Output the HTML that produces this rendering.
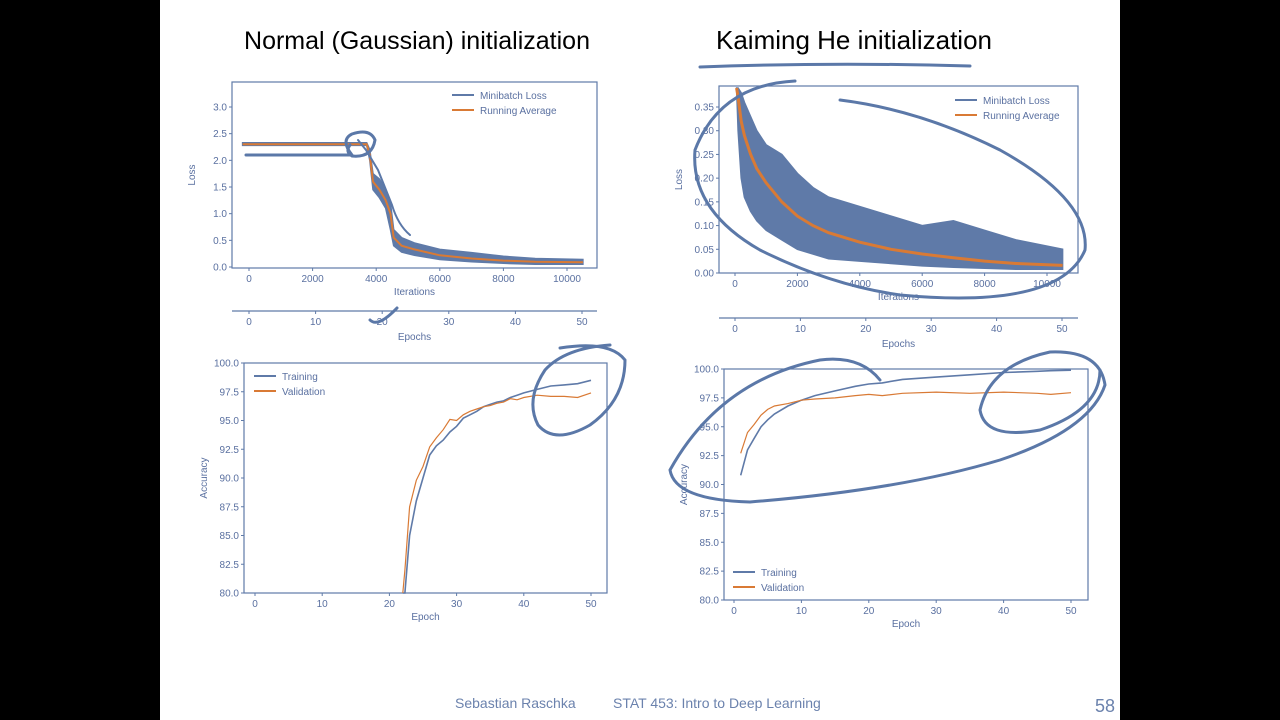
<!DOCTYPE html>
<html><head><meta charset="utf-8">
<style>
body{margin:0;background:#000;}
#slide{position:absolute;left:160px;top:0;width:960px;height:720px;background:#fff;}
svg{position:absolute;left:0;top:0;}
text{font-family:"Liberation Sans",sans-serif;}
</style></head>
<body>
<div id="slide"></div>
<svg id="main" width="1280" height="720">
  <rect x="0" y="0" width="160" height="720" fill="#000"/>
  <rect x="1120" y="0" width="160" height="720" fill="#000"/>
  <text x="417" y="49" font-size="25" text-anchor="middle" fill="#000">Normal (Gaussian) initialization</text>
  <text x="854" y="49" font-size="26" text-anchor="middle" fill="#000">Kaiming He initialization</text>
  <text x="455" y="708" font-size="14" fill="#6b82ad">Sebastian Raschka</text>
  <text x="613" y="708" font-size="14" fill="#6b82ad">STAT 453: Intro to Deep Learning</text>
  <text x="1095" y="712" font-size="18" fill="#6b82ad">58</text>
  <g id="charts"></g>
  <g id="ink" fill="none" stroke="#5b78a8" stroke-width="3" stroke-linecap="round">
    <path d="M700 67 Q830 62 970 66"/>
    <path d="M246 155 L352 155 Q340 140 352 134 Q370 128 375 140 Q372 158 352 156 Q345 152 350 145"/>
    <path d="M358 140 L366 150 Q372 160 378 170 L392 205 Q398 225 410 235" stroke-width="2"/>
    <path d="M370 320 Q378 328 397 308"/>
    <path d="M560 348 Q610 340 625 360 Q625 400 590 425 Q555 445 538 425 Q525 400 545 370 Q565 348 610 345"/>
    <path d="M795 81 Q720 85 695 150 Q690 210 760 250 Q830 285 900 295 Q1060 310 1085 250 Q1090 200 1000 150 Q920 110 840 100"/>
    <path d="M880 380 Q860 355 820 360 Q720 380 670 470 Q675 500 750 502 Q900 490 1000 460 Q1090 430 1105 385 Q1100 350 1050 352 Q990 365 980 410 Q985 440 1040 430 Q1100 410 1100 370"/>
  </g>
</svg>
<script>
// ---------- data ----------
const lossItersN = [-200,500,1500,2500,3300,3700,3800,3900,4100,4300,4450,4550,4800,5200,6000,7000,8000,9000,10500];
const lossAvgN   = [2.30,2.30,2.30,2.30,2.30,2.30,2.10,1.60,1.45,1.25,1.00,0.55,0.40,0.33,0.22,0.16,0.12,0.10,0.09];
const lossUpN    = [2.33,2.33,2.33,2.33,2.33,2.33,2.20,1.75,1.65,1.45,1.20,0.70,0.55,0.45,0.33,0.27,0.20,0.16,0.14];
const lossLoN    = [2.28,2.28,2.28,2.28,2.28,2.28,2.00,1.45,1.30,1.10,0.70,0.40,0.28,0.22,0.14,0.10,0.07,0.05,0.05];

const lossItersK = [50,100,200,300,500,700,1000,1500,2000,2500,3000,4000,5000,6000,7000,8000,9000,10500];
const lossAvgK   = [0.39,0.37,0.32,0.29,0.25,0.22,0.19,0.15,0.12,0.10,0.085,0.065,0.05,0.04,0.032,0.025,0.02,0.016];
const lossUpK    = [0.39,0.39,0.38,0.36,0.33,0.30,0.27,0.25,0.21,0.18,0.16,0.14,0.12,0.10,0.11,0.09,0.07,0.05];
const lossLoK    = [0.39,0.30,0.20,0.16,0.13,0.11,0.09,0.07,0.05,0.04,0.03,0.025,0.02,0.015,0.012,0.01,0.008,0.008];

const accEpochsN = [22,22.3,23,24,25,26,27,28,29,30,31,32,33,34,35,36,37,38,39,40,42,44,46,48,50];
const accTrainN  = [80,80,85,88,90,92,92.8,93.3,94,94.5,95.2,95.5,95.8,96.2,96.4,96.6,96.7,97,97.2,97.4,97.7,98,98.1,98.2,98.5];
const accValN    = [80,82,87.5,89.8,91,92.7,93.5,94.2,95.1,95,95.5,95.8,96,96.2,96.3,96.5,96.6,96.9,96.8,97,97.2,97.1,97.1,97.0,97.4];

const accEpochsK = [1,2,3,4,5,6,8,10,12,15,18,20,22,25,30,35,40,45,47,50];
const accTrainK  = [90.8,93,94,95,95.6,96.1,96.8,97.3,97.7,98.1,98.5,98.7,98.8,99.1,99.3,99.5,99.7,99.8,99.85,99.9];
const accValK    = [92.7,94.5,95.2,96,96.5,96.8,97,97.3,97.4,97.5,97.7,97.8,97.7,97.9,98,97.9,98,97.9,97.8,97.95];

const ticksLossN = [0,0.5,1,1.5,2,2.5,3];
const ticksLossK = [0,0.05,0.1,0.15,0.2,0.25,0.3,0.35];
const ticksIter = [0,2000,4000,6000,8000,10000];
const ticksEpoch = [0,10,20,30,40,50];
const ticksAcc = [80,82.5,85,87.5,90,92.5,95,97.5,100];

const BLUE='#5f7aa8', ORANGE='#d97a35', TXT='#5a70a0';
const NS='http://www.w3.org/2000/svg';
const root=document.getElementById('charts');
function mk(tag,attrs,parent){const e=document.createElementNS(NS,tag);for(const k in attrs)e.setAttribute(k,attrs[k]);(parent||root).appendChild(e);return e;}
function scale(d0,d1,r0,r1){return v=>r0+(v-d0)/(d1-d0)*(r1-r0);}

function chart(cfg){
  const g=mk('g',{});
  
  
  const fr=mk('rect',{x:cfg.L,y:cfg.T,width:cfg.R-cfg.L,height:cfg.B-cfg.T,fill:'none',stroke:BLUE,'stroke-width':1.2},g);
  
  
  cfg.yt.forEach(v=>{const y=cfg.ys(v);
    mk('line',{x1:cfg.L-3,x2:cfg.L,y1:y,y2:y,stroke:BLUE},g);
    const t=mk('text',{x:cfg.L-5,y:y+3.5,'font-size':10,'text-anchor':'end',fill:TXT},g);
    t.textContent=cfg.yfmt(v);
    
    
  });
  cfg.xt.forEach(v=>{const x=cfg.xs(v);
    mk('line',{x1:x,x2:x,y1:cfg.B,y2:cfg.B+3,stroke:BLUE},g);
    const t=mk('text',{x:x,y:cfg.B+14,'font-size':10,'text-anchor':'middle',fill:TXT},g);
    t.textContent=v;
    
    
  });
  const xl=mk('text',{x:(cfg.L+cfg.R)/2,y:cfg.B+27,'font-size':10,'text-anchor':'middle',fill:TXT},g);
  xl.textContent=cfg.xlabel;
  
  
  const ylx=cfg.L-37, yly=(cfg.T+cfg.B)/2;
  const yl=mk('text',{x:ylx,y:yly,'font-size':10,'text-anchor':'middle',fill:TXT,transform:`rotate(-90 ${ylx} ${yly})`},g);
  yl.textContent=cfg.ylabel;
  
  
  return g;
}
function line(g,xs,ys,X,Y,color,w,name){
  const d=X.map((v,i)=>(i?'L':'M')+xs(v).toFixed(1)+' '+ys(Y[i]).toFixed(1)).join(' ');
  const p=mk('path',{d:d,fill:'none',stroke:color,'stroke-width':w},g);
  
  
}
function band(g,xs,ys,X,U,Lo,name){
  let d=X.map((v,i)=>(i?'L':'M')+xs(v).toFixed(1)+' '+ys(U[i]).toFixed(1)).join(' ');
  for(let i=X.length-1;i>=0;i--) d+=' L'+xs(X[i]).toFixed(1)+' '+ys(Lo[i]).toFixed(1);
  const p=mk('path',{d:d+'Z',fill:BLUE,stroke:BLUE,'stroke-width':1.5},g);
  
  
}
function legend(g,x,y,labels){
  labels.forEach((lab,i)=>{
    const yy=y+i*15;
    const l=mk('line',{x1:x,x2:x+22,y1:yy,y2:yy,stroke:i?ORANGE:BLUE,'stroke-width':2},g);
    
    
    const t=mk('text',{x:x+28,y:yy+4,'font-size':10,fill:TXT},g);
    t.textContent=lab;
    
    
  });
}
function epochAxis(name,L,R,y,x0,x50){
  const g=mk('g',{});
  
  
  mk('line',{x1:L,x2:R,y1:y,y2:y,stroke:BLUE,'stroke-width':1.2},g);
  const xs=scale(0,50,x0,x50);
  ticksEpoch.forEach(v=>{mk('line',{x1:xs(v),x2:xs(v),y1:y,y2:y+3,stroke:BLUE},g);
    const t=mk('text',{x:xs(v),y:y+14,'font-size':10,'text-anchor':'middle',fill:TXT},g);t.textContent=v;
    
    });
  const t=mk('text',{x:(L+R)/2,y:y+29,'font-size':10,'text-anchor':'middle',fill:TXT},g);t.textContent='Epochs';
  
  
}

{
  const c={name:'loss-chart-normal',L:232,R:597,T:82,B:268,xt:ticksIter,yt:ticksLossN,xlabel:'Iterations',ylabel:'Loss',yfmt:v=>v.toFixed(1)};
  c.xs=scale(0,10000,249,567); c.ys=scale(0,3,267,107);
  const g=chart(c);
  band(g,c.xs,c.ys,lossItersN,lossUpN,lossLoN,'minibatch-loss-normal');
  line(g,c.xs,c.ys,lossItersN,lossAvgN,ORANGE,2,'running-average-normal');
  legend(g,452,95,['Minibatch Loss','Running Average']);
  epochAxis('epoch-axis-normal',232,597,311,249,582);
}
{
  const c={name:'loss-chart-kaiming',L:719,R:1078,T:86,B:273,xt:ticksIter,yt:ticksLossK,xlabel:'Iterations',ylabel:'Loss',yfmt:v=>v.toFixed(2)};
  c.xs=scale(0,10000,735,1047); c.ys=scale(0,0.35,273,107);
  const g=chart(c);
  band(g,c.xs,c.ys,lossItersK,lossUpK,lossLoK,'minibatch-loss-kaiming');
  line(g,c.xs,c.ys,lossItersK,lossAvgK,ORANGE,3,'running-average-kaiming');
  legend(g,955,100,['Minibatch Loss','Running Average']);
  epochAxis('epoch-axis-kaiming',719,1078,318,735,1062);
}
{
  const c={name:'accuracy-chart-normal',L:244,R:607,T:363,B:593,xt:ticksEpoch,yt:ticksAcc,xlabel:'Epoch',ylabel:'Accuracy',yfmt:v=>v.toFixed(1)};
  c.xs=scale(0,50,255,591); c.ys=scale(80,100,593,363);
  const g=chart(c);
  line(g,c.xs,c.ys,accEpochsN,accTrainN,BLUE,1.6,'training-accuracy-normal');
  line(g,c.xs,c.ys,accEpochsN,accValN,ORANGE,1.2,'validation-accuracy-normal');
  legend(g,254,376,['Training','Validation']);
}
{
  const c={name:'accuracy-chart-kaiming',L:724,R:1088,T:369,B:600,xt:ticksEpoch,yt:ticksAcc,xlabel:'Epoch',ylabel:'Accuracy',yfmt:v=>v.toFixed(1)};
  c.xs=scale(0,50,734,1071); c.ys=scale(80,100,600,369);
  const g=chart(c);
  line(g,c.xs,c.ys,accEpochsK,accTrainK,BLUE,1.6,'training-accuracy-kaiming');
  line(g,c.xs,c.ys,accEpochsK,accValK,ORANGE,1.2,'validation-accuracy-kaiming');
  legend(g,733,572,['Training','Validation']);
}
</script>
</body></html>
